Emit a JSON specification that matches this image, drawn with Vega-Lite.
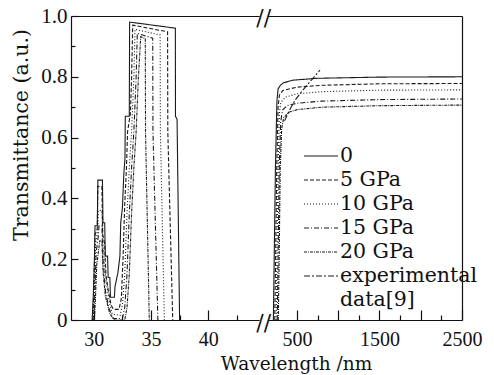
{
  "$schema": "https://vega.github.io/schema/vega-lite/v6.json",
  "width": 391,
  "height": 304,
  "autosize": "none",
  "padding": {"left": 71, "top": 16, "right": 32, "bottom": 55},
  "background": "white",
  "config": {
    "view": {"stroke": null},
    "axis": {
      "domainColor": "#111", "tickColor": "#111", "labelColor": "#111", "titleColor": "#111",
      "labelFont": "Liberation Serif", "labelFontSize": 21,
      "titleFont": "DejaVu Serif", "titleFontSize": 20.5, "titleFontWeight": "normal",
      "grid": false, "domainWidth": 1.2, "tickWidth": 1.2, "labelFlush": false, "labelOverlap": false
    }
  },
  "data": {"values": [
    {"s":"0","seg":"L","wl":29.85,"T":0},{"s":"0","seg":"L","wl":29.95,"T":0.08},{"s":"0","seg":"L","wl":30.05,"T":0.2},{"s":"0","seg":"L","wl":30.1,"T":0.31},{"s":"0","seg":"L","wl":30.3,"T":0.31},{"s":"0","seg":"L","wl":30.35,"T":0.46},{"s":"0","seg":"L","wl":30.75,"T":0.46},{"s":"0","seg":"L","wl":30.8,"T":0.32},{"s":"0","seg":"L","wl":30.95,"T":0.32},{"s":"0","seg":"L","wl":31.0,"T":0.21},{"s":"0","seg":"L","wl":31.2,"T":0.21},{"s":"0","seg":"L","wl":31.25,"T":0.14},{"s":"0","seg":"L","wl":31.4,"T":0.14},{"s":"0","seg":"L","wl":31.45,"T":0.075},{"s":"0","seg":"L","wl":31.8,"T":0.075},{"s":"0","seg":"L","wl":31.85,"T":0.11},{"s":"0","seg":"L","wl":32.1,"T":0.155},{"s":"0","seg":"L","wl":32.28,"T":0.21},{"s":"0","seg":"L","wl":32.35,"T":0.32},{"s":"0","seg":"L","wl":32.5,"T":0.37},{"s":"0","seg":"L","wl":32.62,"T":0.48},{"s":"0","seg":"L","wl":32.72,"T":0.53},{"s":"0","seg":"L","wl":32.75,"T":0.67},{"s":"0","seg":"L","wl":33.1,"T":0.67},{"s":"0","seg":"L","wl":33.13,"T":0.98},{"s":"0","seg":"L","wl":37.13,"T":0.96},{"s":"0","seg":"L","wl":37.14,"T":0.67},{"s":"0","seg":"L","wl":37.28,"T":0.66},{"s":"0","seg":"L","wl":37.5,"T":0},
    {"s":"0","seg":"R","wl":215,"T":0},{"s":"0","seg":"R","wl":225,"T":0.2},{"s":"0","seg":"R","wl":240,"T":0.5},{"s":"0","seg":"R","wl":258,"T":0.72},{"s":"0","seg":"R","wl":272,"T":0.76},{"s":"0","seg":"R","wl":300,"T":0.772},{"s":"0","seg":"R","wl":334,"T":0.78},{"s":"0","seg":"R","wl":455,"T":0.789},{"s":"0","seg":"R","wl":740,"T":0.795},{"s":"0","seg":"R","wl":1500,"T":0.799},{"s":"0","seg":"R","wl":2500,"T":0.8},
    {"s":"5 GPa","seg":"L","wl":29.9,"T":0},{"s":"5 GPa","seg":"L","wl":30.0,"T":0.1},{"s":"5 GPa","seg":"L","wl":30.1,"T":0.28},{"s":"5 GPa","seg":"L","wl":30.3,"T":0.3},{"s":"5 GPa","seg":"L","wl":30.35,"T":0.44},{"s":"5 GPa","seg":"L","wl":30.7,"T":0.44},{"s":"5 GPa","seg":"L","wl":30.78,"T":0.28},{"s":"5 GPa","seg":"L","wl":30.95,"T":0.25},{"s":"5 GPa","seg":"L","wl":31.05,"T":0.15},{"s":"5 GPa","seg":"L","wl":31.25,"T":0.1},{"s":"5 GPa","seg":"L","wl":31.5,"T":0.05},{"s":"5 GPa","seg":"L","wl":31.7,"T":0.035},{"s":"5 GPa","seg":"L","wl":32.2,"T":0.035},{"s":"5 GPa","seg":"L","wl":32.4,"T":0.07},{"s":"5 GPa","seg":"L","wl":32.55,"T":0.2},{"s":"5 GPa","seg":"L","wl":32.7,"T":0.38},{"s":"5 GPa","seg":"L","wl":32.85,"T":0.5},{"s":"5 GPa","seg":"L","wl":32.95,"T":0.62},{"s":"5 GPa","seg":"L","wl":33.2,"T":0.68},{"s":"5 GPa","seg":"L","wl":33.3,"T":0.8},{"s":"5 GPa","seg":"L","wl":33.4,"T":0.97},{"s":"5 GPa","seg":"L","wl":36.45,"T":0.948},{"s":"5 GPa","seg":"L","wl":36.47,"T":0.62},{"s":"5 GPa","seg":"L","wl":36.9,"T":0},
    {"s":"5 GPa","seg":"R","wl":232,"T":0},{"s":"5 GPa","seg":"R","wl":242,"T":0.2},{"s":"5 GPa","seg":"R","wl":256,"T":0.5},{"s":"5 GPa","seg":"R","wl":272,"T":0.7},{"s":"5 GPa","seg":"R","wl":288,"T":0.74},{"s":"5 GPa","seg":"R","wl":330,"T":0.755},{"s":"5 GPa","seg":"R","wl":500,"T":0.766},{"s":"5 GPa","seg":"R","wl":800,"T":0.772},{"s":"5 GPa","seg":"R","wl":1500,"T":0.777},{"s":"5 GPa","seg":"R","wl":2500,"T":0.778},
    {"s":"10 GPa","seg":"L","wl":29.95,"T":0},{"s":"10 GPa","seg":"L","wl":30.05,"T":0.1},{"s":"10 GPa","seg":"L","wl":30.15,"T":0.25},{"s":"10 GPa","seg":"L","wl":30.35,"T":0.3},{"s":"10 GPa","seg":"L","wl":30.4,"T":0.36},{"s":"10 GPa","seg":"L","wl":30.7,"T":0.36},{"s":"10 GPa","seg":"L","wl":30.8,"T":0.25},{"s":"10 GPa","seg":"L","wl":31.0,"T":0.15},{"s":"10 GPa","seg":"L","wl":31.3,"T":0.07},{"s":"10 GPa","seg":"L","wl":31.6,"T":0.02},{"s":"10 GPa","seg":"L","wl":32.3,"T":0.015},{"s":"10 GPa","seg":"L","wl":32.5,"T":0.05},{"s":"10 GPa","seg":"L","wl":32.7,"T":0.15},{"s":"10 GPa","seg":"L","wl":32.9,"T":0.35},{"s":"10 GPa","seg":"L","wl":33.1,"T":0.5},{"s":"10 GPa","seg":"L","wl":33.3,"T":0.62},{"s":"10 GPa","seg":"L","wl":33.5,"T":0.8},{"s":"10 GPa","seg":"L","wl":33.6,"T":0.956},{"s":"10 GPa","seg":"L","wl":35.8,"T":0.9375},{"s":"10 GPa","seg":"L","wl":35.82,"T":0.62},{"s":"10 GPa","seg":"L","wl":36.17,"T":0},
    {"s":"10 GPa","seg":"R","wl":248,"T":0},{"s":"10 GPa","seg":"R","wl":258,"T":0.2},{"s":"10 GPa","seg":"R","wl":272,"T":0.5},{"s":"10 GPa","seg":"R","wl":288,"T":0.68},{"s":"10 GPa","seg":"R","wl":305,"T":0.715},{"s":"10 GPa","seg":"R","wl":360,"T":0.733},{"s":"10 GPa","seg":"R","wl":500,"T":0.744},{"s":"10 GPa","seg":"R","wl":800,"T":0.751},{"s":"10 GPa","seg":"R","wl":1500,"T":0.756},{"s":"10 GPa","seg":"R","wl":2500,"T":0.757},
    {"s":"15 GPa","seg":"L","wl":30.0,"T":0},{"s":"15 GPa","seg":"L","wl":30.1,"T":0.1},{"s":"15 GPa","seg":"L","wl":30.2,"T":0.22},{"s":"15 GPa","seg":"L","wl":30.4,"T":0.28},{"s":"15 GPa","seg":"L","wl":30.45,"T":0.31},{"s":"15 GPa","seg":"L","wl":30.7,"T":0.31},{"s":"15 GPa","seg":"L","wl":30.8,"T":0.2},{"s":"15 GPa","seg":"L","wl":31.0,"T":0.1},{"s":"15 GPa","seg":"L","wl":31.3,"T":0.04},{"s":"15 GPa","seg":"L","wl":31.7,"T":0.005},{"s":"15 GPa","seg":"L","wl":32.5,"T":0.005},{"s":"15 GPa","seg":"L","wl":32.7,"T":0.04},{"s":"15 GPa","seg":"L","wl":32.9,"T":0.15},{"s":"15 GPa","seg":"L","wl":33.1,"T":0.35},{"s":"15 GPa","seg":"L","wl":33.3,"T":0.5},{"s":"15 GPa","seg":"L","wl":33.5,"T":0.62},{"s":"15 GPa","seg":"L","wl":33.7,"T":0.8},{"s":"15 GPa","seg":"L","wl":33.8,"T":0.943},{"s":"15 GPa","seg":"L","wl":35.15,"T":0.927},{"s":"15 GPa","seg":"L","wl":35.17,"T":0.62},{"s":"15 GPa","seg":"L","wl":35.6,"T":0},
    {"s":"15 GPa","seg":"R","wl":262,"T":0},{"s":"15 GPa","seg":"R","wl":272,"T":0.2},{"s":"15 GPa","seg":"R","wl":286,"T":0.5},{"s":"15 GPa","seg":"R","wl":303,"T":0.65},{"s":"15 GPa","seg":"R","wl":325,"T":0.69},{"s":"15 GPa","seg":"R","wl":380,"T":0.705},{"s":"15 GPa","seg":"R","wl":500,"T":0.713},{"s":"15 GPa","seg":"R","wl":800,"T":0.72},{"s":"15 GPa","seg":"R","wl":1500,"T":0.725},{"s":"15 GPa","seg":"R","wl":2500,"T":0.727},
    {"s":"20 GPa","seg":"L","wl":30.05,"T":0},{"s":"20 GPa","seg":"L","wl":30.15,"T":0.08},{"s":"20 GPa","seg":"L","wl":30.25,"T":0.18},{"s":"20 GPa","seg":"L","wl":30.45,"T":0.24},{"s":"20 GPa","seg":"L","wl":30.5,"T":0.26},{"s":"20 GPa","seg":"L","wl":30.7,"T":0.26},{"s":"20 GPa","seg":"L","wl":30.8,"T":0.16},{"s":"20 GPa","seg":"L","wl":31.0,"T":0.08},{"s":"20 GPa","seg":"L","wl":31.4,"T":0.02},{"s":"20 GPa","seg":"L","wl":31.8,"T":0},{"s":"20 GPa","seg":"L","wl":32.7,"T":0},{"s":"20 GPa","seg":"L","wl":32.9,"T":0.04},{"s":"20 GPa","seg":"L","wl":33.1,"T":0.15},{"s":"20 GPa","seg":"L","wl":33.3,"T":0.35},{"s":"20 GPa","seg":"L","wl":33.5,"T":0.5},{"s":"20 GPa","seg":"L","wl":33.7,"T":0.62},{"s":"20 GPa","seg":"L","wl":33.9,"T":0.8},{"s":"20 GPa","seg":"L","wl":34.1,"T":0.932},{"s":"20 GPa","seg":"L","wl":34.5,"T":0.925},{"s":"20 GPa","seg":"L","wl":34.52,"T":0.62},{"s":"20 GPa","seg":"L","wl":34.85,"T":0},
    {"s":"20 GPa","seg":"R","wl":275,"T":0},{"s":"20 GPa","seg":"R","wl":285,"T":0.2},{"s":"20 GPa","seg":"R","wl":298,"T":0.5},{"s":"20 GPa","seg":"R","wl":316,"T":0.63},{"s":"20 GPa","seg":"R","wl":340,"T":0.665},{"s":"20 GPa","seg":"R","wl":400,"T":0.683},{"s":"20 GPa","seg":"R","wl":500,"T":0.692},{"s":"20 GPa","seg":"R","wl":800,"T":0.7},{"s":"20 GPa","seg":"R","wl":1500,"T":0.705},{"s":"20 GPa","seg":"R","wl":2500,"T":0.707},
    {"s":"experimental","seg":"R","wl":350,"T":0.655},{"s":"experimental","seg":"R","wl":420,"T":0.695},{"s":"experimental","seg":"R","wl":480,"T":0.724},{"s":"experimental","seg":"R","wl":560,"T":0.752},{"s":"experimental","seg":"R","wl":640,"T":0.778},{"s":"experimental","seg":"R","wl":710,"T":0.8},{"s":"experimental","seg":"R","wl":780,"T":0.822}
  ]},
  "layer": [
    {
      "mark": {"type": "line", "strokeWidth": 1.1},
      "encoding": {
        "x": {
          "field": "wl", "type": "quantitative",
          "scale": {"domain": [28, 44.5, 150, 2500], "range": [0, 188.6, 197, 391], "nice": false, "zero": false},
          "axis": {
            "orient": "bottom",
            "values": [30, 35, 40, 500, 1000, 1500, 2000, 2500],
            "format": "d",
            "labelExpr": "datum.value == 1000 || datum.value == 2000 ? '' : datum.label",
            "tickSize": -10, "labelPadding": 19, "labelFontSize": 20, "labelBaseline": "top",
            "title": "Wavelength /nm", "titleFontSize": 18.5, "titleX": 225, "titleY": 49, "titleBaseline": "alphabetic", "titleAlign": "center"
          }
        },
        "y": {
          "field": "T", "type": "quantitative",
          "scale": {"domain": [0, 1], "nice": false, "zero": false},
          "axis": {
            "orient": "left",
            "values": [0, 0.2, 0.4, 0.6, 0.8, 1],
            "labelExpr": "datum.value == 0 ? '0' : format(datum.value, '.1f')",
            "tickSize": -7, "labelPadding": 11,
            "title": "Transmittance (a.u.)", "titleX": -50, "titleY": 118.5, "titleAngle": -90, "titleAlign": "center", "titleBaseline": "middle"
          }
        },
        "color": {
          "field": "s", "type": "nominal",
          "scale": {"domain": ["0", "5 GPa", "10 GPa", "15 GPa", "20 GPa", "experimental", "data[9]"],
                    "range": ["#1a1a1a", "#1a1a1a", "#1a1a1a", "#1a1a1a", "#1a1a1a", "#1a1a1a", "#ffffff"]},
          "legend": {"title": null, "orient": "none", "legendX": 232, "legendY": 128, "symbolType": "stroke", "symbolSize": 1156, "symbolStrokeWidth": 1.2, "clipHeight": 24, "rowPadding": 0, "padding": 0, "labelFont": "DejaVu Serif", "labelFontSize": 20.5, "labelColor": "#111", "labelOffset": 1, "labelLimit": 250}
        },
        "strokeDash": {
          "field": "s", "type": "nominal",
          "scale": {"domain": ["0", "5 GPa", "10 GPa", "15 GPa", "20 GPa", "experimental", "data[9]"],
                    "range": [[1, 0], [4, 2], [1, 2], [5, 2, 1, 2], [3, 1, 1, 1], [6, 2, 2, 2], [1, 0]]},
          "legend": {"title": null, "orient": "none", "legendX": 232, "legendY": 128, "symbolType": "stroke", "symbolSize": 1156, "symbolStrokeWidth": 1.2, "clipHeight": 24, "rowPadding": 0, "padding": 0, "labelFont": "DejaVu Serif", "labelFontSize": 20.5, "labelColor": "#111", "labelOffset": 1, "labelLimit": 250}
        },
        "strokeWidth": {"condition": {"test": "datum.s == 'experimental'", "value": 1.8}, "value": 1.1},
        "detail": {"field": "seg", "type": "nominal"}
      }
    },
    {
      "data": {"values": [{}]},
      "mark": {"type": "rect", "color": "white"},
      "encoding": {
        "x": {"datum": 44.5, "type": "quantitative", "axis": {"orient": "top", "labels": false, "ticks": false, "title": null}},
        "x2": {"datum": 150},
        "y": {"datum": -0.06, "type": "quantitative", "axis": {"orient": "right", "labels": false, "ticks": false, "title": null}},
        "y2": {"datum": 1.06}
      }
    },
    {
      "data": {"values": [{}]},
      "mark": {"type": "text", "text": "//", "font": "DejaVu Serif", "fontSize": 22, "dy": 3, "color": "#111"},
      "encoding": {
        "x": {"datum": 97, "type": "quantitative", "axis": {"orient": "bottom", "values": [32.5, 37.5, 42.5, 750, 1250, 1750, 2250], "labels": false, "domain": false, "tickSize": -5, "title": null}},
        "y": {"datum": 0, "type": "quantitative", "axis": {"orient": "left", "values": [0.1, 0.3, 0.5, 0.7, 0.9], "labels": false, "domain": false, "tickSize": -4, "title": null}}
      }
    },
    {
      "data": {"values": [{}]},
      "mark": {"type": "text", "text": "//", "font": "DejaVu Serif", "fontSize": 22, "dy": 2, "color": "#111"},
      "encoding": {
        "x": {"datum": 97, "type": "quantitative", "axis": null},
        "y": {"datum": 1, "type": "quantitative", "axis": null}
      }
    }
  ],
  "resolve": {"axis": {"x": "independent", "y": "independent"}}
}
